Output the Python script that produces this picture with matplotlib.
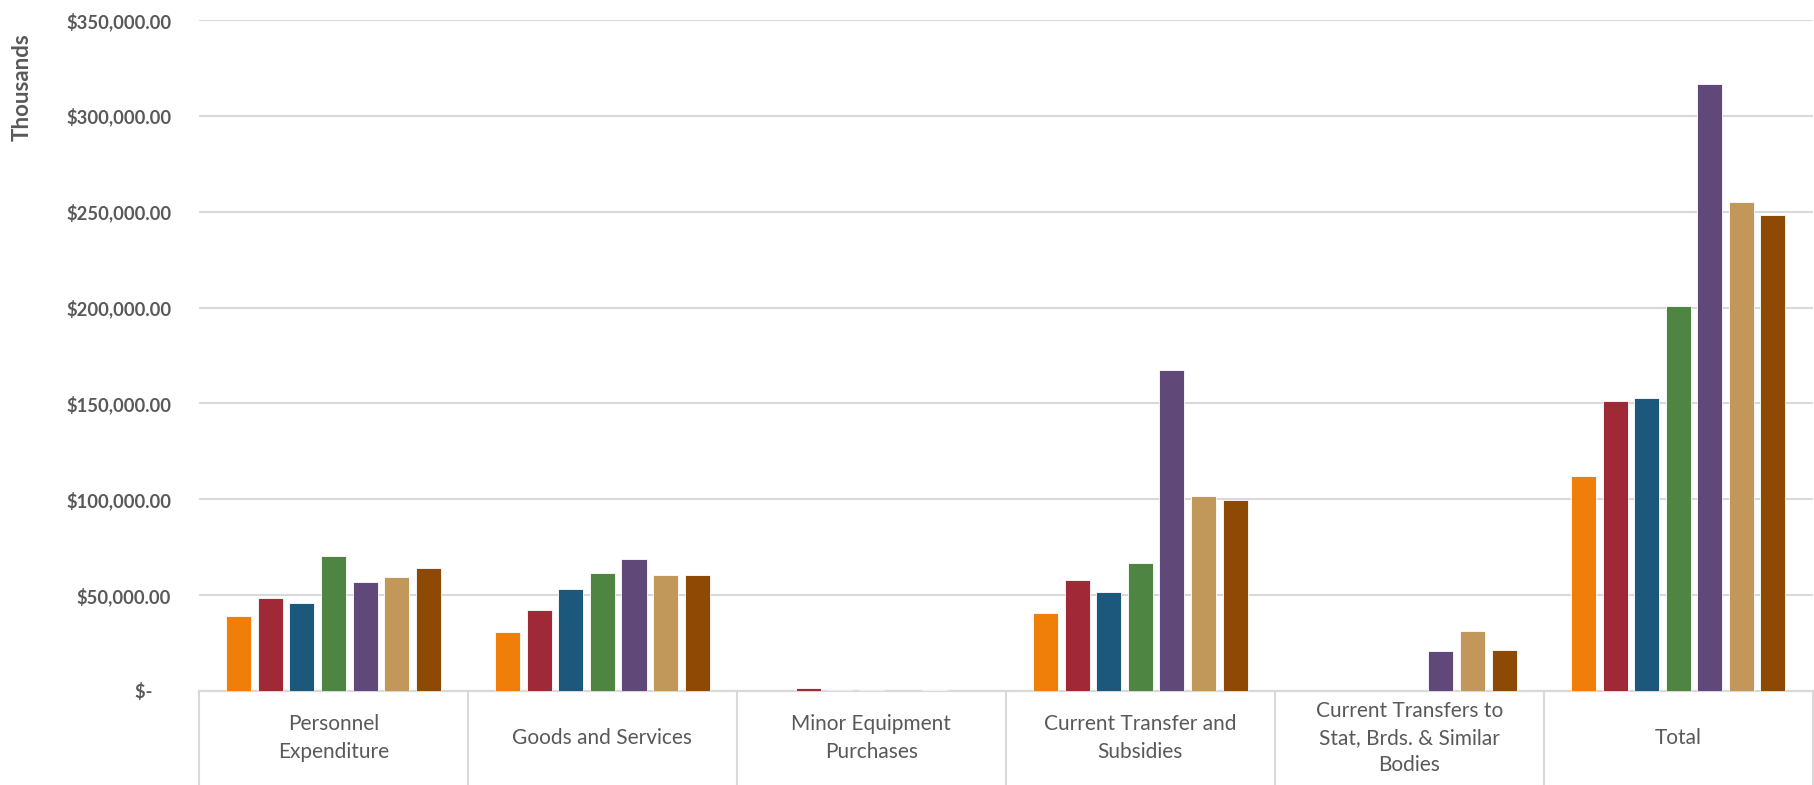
import matplotlib
matplotlib.use("Agg")
import matplotlib.pyplot as plt
import matplotlib.transforms as mtransforms
from matplotlib.ticker import FuncFormatter
import numpy as np

# categories along the x axis
categories = [
  "Personnel\nExpenditure",
  "Goods and Services",
  "Minor Equipment\nPurchases",
  "Current Transfer and\nSubsidies",
  "Current Transfers to\nStat, Brds. & Similar\nBodies",
  "Total",
]

# seven series, one value per category (thousands of dollars)
series_1 = [38900, 30600, 200, 40600, 0, 112300]
series_2 = [48300, 42300, 1500, 57800, 0, 151400]
series_3 = [46000, 53000, 500, 51600, 0, 153000]
series_4 = [70300, 61600, 450, 67000, 0, 200900]
series_5 = [56900, 68600, 0, 167500, 20800, 316400]
series_6 = [59400, 60400, 400, 101600, 31300, 255200]
series_7 = [64400, 60300, 0, 99800, 21200, 248300]

all_series = [series_1, series_2, series_3, series_4, series_5, series_6, series_7]
colors = ["#F07F09", "#9F2936", "#1B587C", "#4E8542", "#604878", "#C19859", "#8E4A05"]

y_ticks = [0, 50000, 100000, 150000, 200000, 250000, 300000, 350000]

GRAY = "#595959"
LINE = "#D9D9D9"
FONT = "Lato"


def money(v, pos=None):
  if v == 0:
    return "$-\u2002\u2002"
  return f"${v:,.2f}"


fig = plt.figure(figsize=(18.15, 7.85), dpi=100)
ax = fig.add_axes([199 / 1815, 94 / 785, 1 - 199 / 1815 - 0.0012, (691 - 20) / 785])

x = np.arange(len(categories)) + 0.5
pitch = 0.1173
width = 0.093
for i, (vals, col) in enumerate(zip(all_series, colors)):
  offs = (i - 3) * pitch
  ax.bar(x + offs, vals, width=width, color=col, edgecolor="white", linewidth=0.6, zorder=5)

ax.set_xlim(0, len(categories))
ax.set_ylim(0, 350000)
ax.set_yticks(y_ticks)
ax.yaxis.set_major_formatter(FuncFormatter(money))
ax.grid(axis="y", color=LINE, linewidth=1.5, zorder=0)
ax.tick_params(axis="y", length=0, pad=20, labelcolor=GRAY, labelsize=13.2)
for lab in ax.get_yticklabels():
  lab.set_fontweight("bold")
  lab.set_fontfamily(FONT)

ax.set_xticks([])
for side in ["top", "right", "left"]:
  ax.spines[side].set_visible(False)
ax.spines["bottom"].set_color(LINE)
ax.spines["bottom"].set_linewidth(1.6)
ax.spines["bottom"].set_zorder(4)

# category separators running down through the label area
trans = mtransforms.blended_transform_factory(ax.transData, ax.transAxes)
bottom_ax = -(94 / 785) / ((691 - 20) / 785)
for b in range(len(categories) + 1):
  ax.plot([b, b], [0, bottom_ax], transform=trans, color=LINE, linewidth=1.5, clip_on=False)

label_y = -(47 / 671)
for xi, name in zip(x, categories):
  ax.text(xi, label_y, name, transform=trans, ha="center", va="center",
      fontsize=15, color=GRAY, family=FONT, linespacing=1.45)

fig.text(22 / 1815, 1 - 87 / 785, "Thousands", rotation=90, ha="center", va="center",
     fontsize=16, fontweight="bold", color=GRAY, family=FONT)

fig.savefig("out.png", dpi=100)
